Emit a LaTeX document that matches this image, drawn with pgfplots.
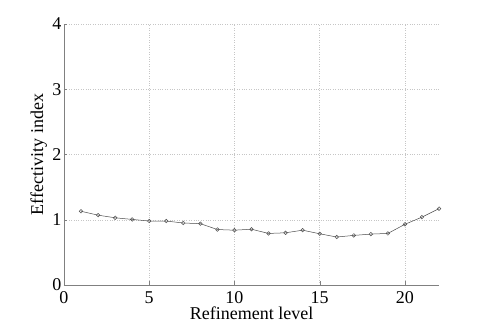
\documentclass[border=0pt]{standalone}
\usepackage{fontspec}
\setmainfont{Liberation Serif}
\usepackage{pgfplots}
\pgfplotsset{compat=1.18}
\begin{document}
\begin{tikzpicture}[x=1pt,y=1pt]
\begin{axis}[
  at={(0pt,0pt)}, anchor=origin,
  scale only axis,
  width=375pt, height=261pt,
  xmin=0, xmax=22, ymin=0, ymax=4,
  xtick={0,5,10,15,20}, ytick={0,1,2,3,4},
  axis lines=left,
  axis line style={-, gray},
  tick align=inside,
  major tick length=3.5pt,
  tick style={gray},
  grid=major,
  major grid style={dotted, gray!45, line width=0.4pt},
  /pgf/number format/assume math mode=true,
  ticklabel style={font=\fontsize{18}{20}\selectfont},
  xticklabel style={anchor=north, inner sep=0pt, yshift=-6.5pt},
  yticklabel style={anchor=east, inner sep=0pt, xshift=-2.5pt},
  xlabel={Refinement level},
  ylabel={Effectivity index},
  label style={font=\fontsize{18}{20}\selectfont, inner sep=0pt},
  xlabel style={at={(axis description cs:0.5,-0.134)}, anchor=base},
  ylabel style={at={(axis description cs:-0.045,0.5)}, anchor=south},
  clip=false,
]
\addplot[color=black!70, line width=0.5pt, mark=o, mark size=1.8pt, mark options={fill=white, line width=0.5pt}] coordinates {
(1,1.13) (2,1.07) (3,1.03) (4,1.005) (5,0.98) (6,0.98) (7,0.95) (8,0.94)
(9,0.85) (10,0.84) (11,0.855) (12,0.79) (13,0.80) (14,0.84) (15,0.785)
(16,0.735) (17,0.76) (18,0.78) (19,0.79) (20,0.93) (21,1.04) (22,1.17)
};
\end{axis}
\path[use as bounding box] (-64pt,-38pt) rectangle (421pt,285pt);
\end{tikzpicture}
\end{document}
